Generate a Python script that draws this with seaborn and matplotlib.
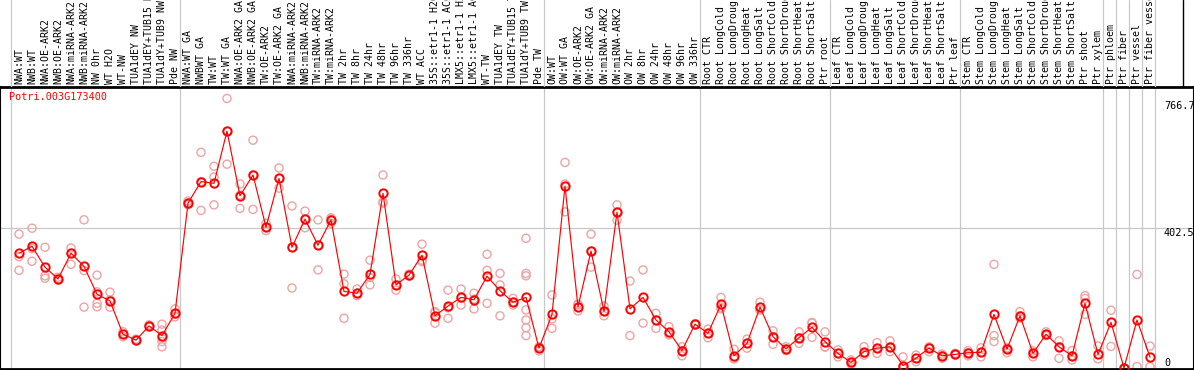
import numpy as np
import pandas as pd
import matplotlib
matplotlib.use("Agg")
import matplotlib.pyplot as plt
import matplotlib.transforms as mtransforms
import seaborn as sns

# ---------- DATA ----------
GENE = "Potri.003G173400"

labels = [
    "NWA:WT", "NWB:WT", "NWA:OE-ARK2", "NWB:OE-ARK2", "NWA:miRNA-ARK2", "NWB:miRNA-ARK2",
    "NW 0hr", "WT H2O", "WT-NW", "TUA1dEY NW", "TUA1dEY+TUB15 NW", "TUA1dY+TUB9 NW", "Pde NW",
    "NWA:WT GA", "NWBWT GA", "TW:WT", "TW:WT GA", "NWA:OE-ARK2 GA", "NWB:OE-ARK2 GA",
    "TW:OE-ARK2", "TW:OE-ARK2 GA", "NWA:miRNA-ARK2", "NWB:miRNA-ARK2", "TW:miRNA-ARK2",
    "TW:miRNA-ARK2", "TW 2hr", "TW 8hr", "TW 24hr", "TW 48hr", "TW 96hr", "TW 336hr",
    "WT ACC", "35S::etr1-1 H2O", "35S::etr1-1 ACC", "LMX5::etr1-1 H2O", "LMX5::etr1-1 ACC",
    "WT-TW", "TUA1dEY TW", "TUA1dEY+TUB15 TW", "TUA1dY+TUB9 TW", "Pde TW",
    "OW:WT", "OW:WT GA", "OW:OE-ARK2", "OW:OE-ARK2 GA", "OW:miRNA-ARK2", "OW:miRNA-ARK2",
    "OW 2hr", "OW 8hr", "OW 24hr", "OW 48hr", "OW 96hr", "OW 336hr",
    "Root CTR", "Root LongCold", "Root LongDrought", "Root LongHeat", "Root LongSalt",
    "Root ShortCold", "Root ShortDrought", "Root ShortHeat", "Root ShortSalt", "Ptr root",
    "Leaf CTR", "Leaf LongCold", "Leaf LongDrought", "Leaf LongHeat", "Leaf LongSalt",
    "Leaf ShortCold", "Leaf ShortDrought", "Leaf ShortHeat", "Leaf ShortSalt", "Ptr leaf",
    "Stem CTR", "Stem LongCold", "Stem LongDrought", "Stem LongHeat", "Stem LongSalt",
    "Stem ShortCold", "Stem ShortDrought", "Stem ShortHeat", "Stem ShortSalt", "Ptr shoot",
    "Ptr xylem", "Ptr phloem", "Ptr fiber", "Ptr vessel", "Ptr fiber vessel",
]

means = [
    330, 350, 290, 256, 330, 292, 212, 193, 97, 80, 121, 93, 157,
    474, 536, 531, 681, 495, 555, 405, 545, 347, 428, 353, 426, 220, 215, 269, 502,
    239, 267, 324, 150, 178, 203, 196, 264, 222, 189, 203, 57,
    154, 523, 176, 336, 163, 448, 170, 203, 138, 104, 50, 126,
    100, 183, 35, 71, 175, 90, 55, 87, 117, 76,
    42, 16, 47, 57, 61, 7, 28, 57, 35, 39,
    44, 45, 154, 54, 150, 42, 97, 61, 35, 186, 39,
    131, 0, 138, 31,
]

replicates = [
    [385, 320, 281], [402, 343, 307], [347, 265, 258], [261, 253, 256], [345, 330, 298],
    [426, 280, 175], [267, 219, 186, 176], [218, 175, 196], [104, 90, 97], [80, 83, 78],
    [124, 118, 121], [126, 109, 85, 76, 61], [170, 147, 155],
    [480, 469, 474], [620, 453, 536], [580, 549, 469], [775, 586, 681], [529, 459, 497],
    [655, 456, 555], [416, 395, 405], [575, 517, 545], [466, 230, 347], [451, 403, 428],
    [426, 282, 353], [432, 416, 428], [270, 242, 143], [227, 208, 215], [310, 260, 239],
    [555, 478, 474], [256, 224, 239], [270, 264, 267], [356, 306, 310], [159, 129, 162],
    [224, 143, 173], [227, 181, 201], [215, 170, 198], [327, 281, 186], [272, 239, 150],
    [200, 181, 189], [373, 272, 265, 167, 138, 116, 93], [61, 49, 57],
    [210, 114, 141], [591, 449, 529], [164, 181, 184], [385, 290, 336], [178, 150, 163],
    [469, 425, 448], [250, 93], [282, 129], [157, 114, 138], [119, 97, 95], [61, 35, 50],
    [127, 124, 126],
    [112, 87, 100], [203, 170, 175], [54, 28, 26], [83, 57, 71], [189, 167, 167],
    [107, 68, 90], [61, 50, 55], [104, 71, 87], [131, 88, 129], [104, 61, 60],
    [52, 32, 42], [23, 11, 16], [61, 37, 43], [73, 42, 57], [78, 47, 61],
    [32, 4, 0], [18, 37, 28], [61, 47, 57], [40, 28, 35], [42, 37, 39],
    [50, 35, 44], [58, 32, 45], [298, 93, 76], [58, 44, 54], [162, 143, 150],
    [49, 32, 42], [104, 93, 97], [78, 28, 61], [50, 23, 35], [208, 200, 154],
    [63, 26], [166, 62], [0, 0], [269, 4], [63, 4],
]

# first column of each block (vertical separators)
group_starts = [0, 13, 41, 53, 63, 73, 84, 85, 86, 87, 88]

y_ticks = [766.7, 402.5, 0]

# ---------- PLOT ----------
W, H = 1194, 370
sns.set_style("white")
mono = ["DejaVu Sans Mono"]

rows = []
for i, vals in enumerate(replicates):
    for v in vals:
        rows.append({"x": i, "value": v})
df_rep = pd.DataFrame(rows)
df_mean = pd.DataFrame({"x": np.arange(len(means)), "value": means})

fig = plt.figure(figsize=(W / 100, H / 100), dpi=100)
ax = fig.add_axes([0, 1 / H, 1, 282 / H])
hx = fig.add_axes([0, 283 / H, 1, 87 / H], sharex=ax)

ax.set_xlim(-19 / 13, (W - 19) / 13)
ax.set_ylim(-2.9, 807.9)

grid_c = "#c8c8c8"
for g in group_starts:
    ax.axvline(g - 0.62, color=grid_c, lw=0.9, zorder=0)
    hx.axvline(g - 0.62, color=grid_c, lw=0.9, zorder=0)
ax.axhline(402.5, color=grid_c, lw=0.9, zorder=0)

sns.scatterplot(data=df_rep, x="x", y="value", ax=ax, marker="o", s=34,
                facecolors="none", edgecolor="#efa3a3", linewidth=1.0, zorder=2,
                legend=False)
sns.lineplot(data=df_mean, x="x", y="value", ax=ax, sort=False, color="#ff0000",
             lw=0.85, marker="o", markersize=6.0, markerfacecolor="none",
             markeredgecolor="#ff0000", markeredgewidth=1.4, zorder=3)

ax.set_xlabel("")
ax.set_ylabel("")
ax.set_xticks([])
ax.set_yticks([])
for s in ["top", "bottom"]:
    ax.spines[s].set_linewidth(2)
    ax.spines[s].set_color("black")
for s in ["left", "right"]:
    ax.spines[s].set_linewidth(1.5)
    ax.spines[s].set_color("black")

# right-hand value labels
tr = mtransforms.blended_transform_factory(ax.transAxes, ax.transData)
for v in y_ticks:
    va = "bottom" if v == 0 else "top"
    ax.text(1164 / W, v, f"{v:g}", transform=tr, ha="left", va=va,
            fontsize=7.3, family=mono, color="black", clip_on=False)

ax.text(9 / W, (H - 97) / H, GENE, transform=fig.transFigure, ha="left",
        va="center", fontsize=7.3, family=mono, color="#ff0000")

# header with sample names (long names are cut at the top, as in the source)
hx.set_ylim(0, 87)
hx.axis("off")
for i, lab in enumerate(labels):
    hx.text(i, 2.5, lab, rotation=90, ha="center", va="bottom",
            fontsize=7.1, family=mono, color="black", clip_on=True)
hx.axvline((1183 - 19) / 13, color="black", lw=1.0)

fig.savefig("out.png", dpi=100)
